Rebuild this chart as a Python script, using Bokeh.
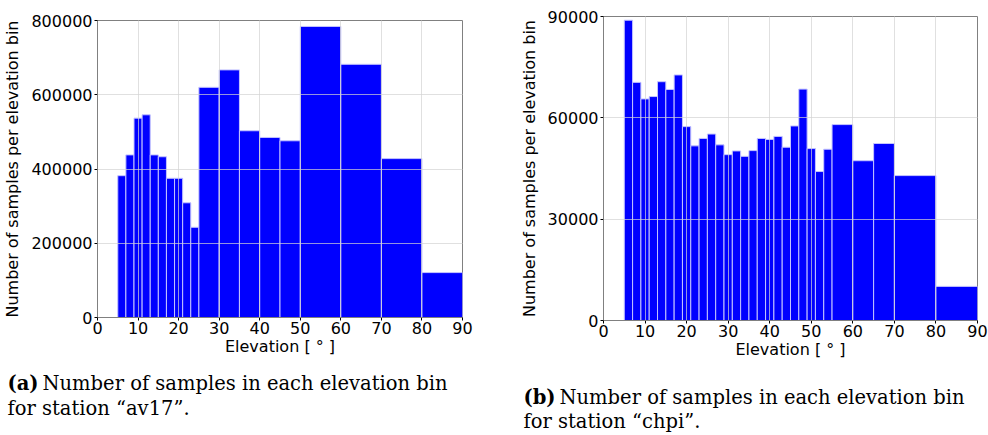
from bokeh.plotting import figure
from bokeh.layouts import column, row
from bokeh.models import Range1d, FixedTicker, BasicTickFormatter, ColumnDataSource
from bokeh.core.properties import value
from bokeh.embed import file_html
from bokeh.resources import INLINE

# ---- data ----
av17_edges = [5, 7, 9, 11, 13, 15, 17, 19, 21, 23, 25, 30, 35, 40, 45, 50, 60, 70, 80, 90]
av17_counts = [382000, 438000, 537000, 546000, 438000, 433000, 375000, 375000, 309000, 243000,
               620000, 667000, 503000, 485000, 476000, 784000, 682000, 428000, 121000]

chpi_edges = [5, 7, 9, 11, 13, 15, 17, 19, 21, 23, 25, 27, 29, 31, 33, 35, 37, 39, 41, 43, 45,
              47, 49, 51, 53, 55, 60, 65, 70, 80, 90]
chpi_counts = [88900, 70500, 65600, 66300, 70700, 68400, 72700, 57400, 51700, 53900, 55200,
               52000, 49100, 50200, 48600, 50300, 53900, 53600, 54500, 51300, 57600, 68500,
               50900, 44100, 50700, 58000, 47300, 52400, 42900, 10100]

x_ticks = [0, 10, 20, 30, 40, 50, 60, 70, 80, 90]
av17_yticks = [0, 200000, 400000, 600000, 800000]
chpi_yticks = [0, 30000, 60000, 90000]

x_label = "Elevation [ \u00b0 ]"
y_label = "Number of samples per elevation bin"

cap_a_bold = "(a)"
cap_a_1 = "Number of samples in each elevation bin"
cap_a_2 = "for station \u201cav17\u201d."
cap_b_bold = "(b)"
cap_b_1 = "Number of samples in each elevation bin"
cap_b_2 = "for station \u201cchpi\u201d."

FONT = "DejaVu Sans"
GRAY = "#808080"
ROW_H = 363


def hist_fig(edges, counts, yticks, ymax, bl, bt, br, bb):
    p = figure(width=494, height=ROW_H, output_backend="svg", toolbar_location=None,
               x_range=Range1d(0, 90), y_range=Range1d(0, ymax),
               min_border_left=bl, min_border_top=bt, min_border_right=br, min_border_bottom=bb)
    src = ColumnDataSource(dict(left=edges[:-1], right=edges[1:], top=counts,
                                bottom=[0] * len(counts)))
    p.quad(left="left", right="right", top="top", bottom="bottom", source=src,
           fill_color="#0000ff", line_color="#c4c4ff", line_width=1)
    p.xaxis.ticker = FixedTicker(ticks=x_ticks)
    p.yaxis.ticker = FixedTicker(ticks=yticks)
    p.yaxis.formatter = BasicTickFormatter(use_scientific=False)
    p.xaxis.axis_label = x_label
    p.yaxis.axis_label = y_label
    for ax in (p.xaxis, p.yaxis):
        ax.axis_label_text_font = FONT
        ax.axis_label_text_font_size = "16px"
        ax.axis_label_text_font_style = "normal"
        ax.axis_label_text_color = "black"
        ax.major_label_text_font = FONT
        ax.major_label_text_font_size = "16px"
        ax.major_label_text_color = "black"
        ax.axis_line_color = GRAY
        ax.major_tick_line_color = "black"
        ax.major_tick_out = 3
        ax.major_tick_in = 0
        ax.minor_tick_line_color = None
        ax.major_label_standoff = 2
    p.xaxis.major_label_standoff = 1
    p.xaxis.axis_label_standoff = 0
    p.yaxis.axis_label_standoff = 6
    p.outline_line_color = GRAY
    p.outline_line_width = 1
    p.grid.grid_line_color = "#d3d3d3"
    p.grid.grid_line_alpha = 0.7
    p.grid.level = "overlay"
    p.background_fill_color = "white"
    p.border_fill_color = "white"
    return p


pa = hist_fig(av17_edges, av17_counts, av17_yticks, 800000, 96, 20, 32, ROW_H - 317)
pb = hist_fig(chpi_edges, chpi_counts, chpi_yticks, 90000, 109, 16, 11, ROW_H - 320)

# caption strip
cap_h = 435 - ROW_H
pc = figure(width=988, height=cap_h, output_backend="svg", toolbar_location=None,
            x_range=Range1d(0, 988), y_range=Range1d(cap_h, 0),
            x_axis_location=None, y_axis_location=None, min_border=0)
pc.grid.visible = False
pc.outline_line_color = None
serif = value("DejaVu Serif")
common = dict(text_font=serif, text_font_size=value("19.5px"), text_baseline="middle",
              text_color="black")
pc.text(x=[7, 523], y=[383 - ROW_H, 397 - ROW_H], text=[cap_a_bold, cap_b_bold],
        text_font_style="bold", **common)
pc.text(x=[42, 559], y=[383 - ROW_H, 397 - ROW_H], text=[cap_a_1, cap_b_1], **common)
pc.text(x=[7, 523], y=[408 - ROW_H, 421 - ROW_H], text=[cap_a_2, cap_b_2], **common)

layout = column(row(pa, column(pb)), pc)
open("out.html", "w").write(file_html(layout, INLINE))
